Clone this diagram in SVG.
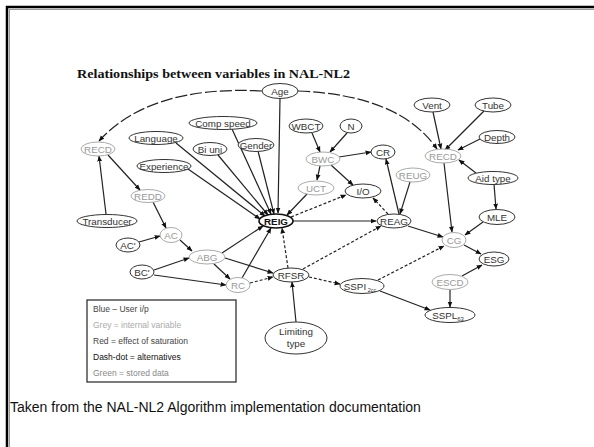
<svg xmlns="http://www.w3.org/2000/svg" width="594" height="447" viewBox="0 0 594 447">
<style>
.frame{fill:none;stroke:#000;stroke-width:2.5}
.frame2{fill:none;stroke:#999;stroke-width:1}
.title{font-family:"Liberation Serif",serif;font-weight:bold;font-size:13.5px;fill:#111}
.nb ellipse{fill:#fff;stroke:#333;stroke-width:1}
.ng ellipse{fill:#fff;stroke:#aaa;stroke-width:1}
.nb text{font-family:"Liberation Sans",Arial,sans-serif;font-size:9.8px;fill:#333;text-anchor:middle}
.ng text{font-family:"Liberation Sans",Arial,sans-serif;font-size:9.8px;fill:#999;text-anchor:middle}
.bold ellipse{stroke:#111;stroke-width:1.6}
.bold text{font-weight:bold;fill:#111}
.c path{fill:none;stroke:#222;stroke-width:1.2;marker-end:url(#ah)}
.c path.d{stroke-dasharray:3 2}
.c path.ld{stroke-dasharray:12 3}
.leg{font-family:"Liberation Sans",Arial,sans-serif;font-size:8.5px}
.foot{font-family:"Liberation Sans",Arial,sans-serif;font-size:14px;fill:#111}
</style>
<defs>
<marker id="ah" viewBox="0 0 10 10" refX="9" refY="5" markerWidth="6" markerHeight="6" markerUnits="userSpaceOnUse" orient="auto">
<path d="M0,1 L10,5 L0,9 z" fill="#111"/>
</marker>
</defs>
<rect x="0" y="0" width="594" height="447" fill="#fff"/>
<rect class="frame" x="7" y="7" width="600" height="460"/>
<rect class="frame2" x="9.5" y="9.5" width="600" height="460"/>
<text class="title" x="77" y="78" textLength="273" lengthAdjust="spacingAndGlyphs">Relationships between variables in NAL-NL2</text>

<g id="connectors" class="c">
<path class="ld" d="M262,91 Q150,85 99,141"/>
<path class="ld" d="M298,91 Q400,95 437,149"/>
<path d="M280,98.5 L278,213"/>
<path d="M232,129 L271,214"/>
<path d="M176,143 L265,216"/>
<path d="M218,155 L268,215"/>
<path d="M258,151 L274,214"/>
<path d="M188,169 L260,219"/>
<path d="M307,194 L287,215"/>
<path d="M320,166 L317,180"/>
<path d="M331,165 L353,185"/>
<path d="M339,157 L371,152"/>
<path d="M312,133 L320,152"/>
<path d="M347,133 L330,152"/>
<path class="d" d="M291,217 L346,195"/>
<path d="M293,221 L376,221"/>
<path class="d" d="M388,214 L373,198"/>
<path d="M399,214 L386,159"/>
<path d="M410,182 L400,214"/>
<path d="M408,226 L443,237"/>
<path d="M444,163 L452,232"/>
<path d="M476,173 L459,160"/>
<path d="M494,184 L496,209"/>
<path d="M483,222 L465,235"/>
<path d="M464,245 L481,254"/>
<path d="M462,276 L482,265"/>
<path d="M450,289.5 L450,307"/>
<path d="M380,291 L430,310"/>
<path class="d" d="M309,277 L340,284"/>
<path class="d" d="M378,280 L444,246"/>
<path class="d" d="M303,269 L381,226"/>
<path class="d" d="M288,268 L282,228"/>
<path d="M296,322 L292,282"/>
<path d="M222,253 L263,226"/>
<path d="M225,258 L273,273"/>
<path d="M214,264 L230,279"/>
<path d="M154,270 L189,258"/>
<path d="M154,275 L226,285"/>
<path d="M242,278 L271,228"/>
<path class="d" d="M250,283 L273,277"/>
<path d="M106,214 L99,156"/>
<path d="M108,155 L140,190"/>
<path d="M153,202 L166,228"/>
<path d="M139,242 L160,236"/>
<path d="M180,240 L192,251"/>
<path d="M433,112 L441,149"/>
<path d="M484,111 L445,150"/>
<path d="M480,139 L458,150"/>
</g>

<g id="Age" class="nb"><ellipse cx="280" cy="91" rx="18" ry="7.5"/><text x="280" y="94.5">Age</text></g>
<g id="RECD_L" class="ng"><ellipse cx="98" cy="149" rx="17" ry="7"/><text x="98" y="152.5">RECD</text></g>
<g id="Language" class="nb"><ellipse cx="156" cy="138" rx="27" ry="6.5"/><text x="156" y="141.5">Language</text></g>
<g id="CompSpeed" class="nb"><ellipse cx="223" cy="123" rx="34" ry="6.5"/><text x="223" y="126.5">Comp speed</text></g>
<g id="BiUni" class="nb"><ellipse cx="210" cy="149" rx="17" ry="6.5"/><text x="210" y="152.5">Bi uni</text></g>
<g id="Gender" class="nb"><ellipse cx="256" cy="145" rx="18" ry="6.5"/><text x="256" y="148.5">Gender</text></g>
<g id="WBCT" class="nb"><ellipse cx="306" cy="126" rx="17" ry="7"/><text x="306" y="129.5">WBCT</text></g>
<g id="N" class="nb"><ellipse cx="351" cy="126" rx="11" ry="7"/><text x="351" y="129.5">N</text></g>
<g id="BWC" class="ng"><ellipse cx="323" cy="159" rx="17" ry="7"/><text x="323" y="162.5">BWC</text></g>
<g id="CR" class="nb"><ellipse cx="383" cy="152" rx="12" ry="7"/><text x="383" y="155.5">CR</text></g>
<g id="Vent" class="nb"><ellipse cx="432" cy="105" rx="18" ry="7"/><text x="432" y="108.5">Vent</text></g>
<g id="Tube" class="nb"><ellipse cx="493" cy="105" rx="18" ry="7"/><text x="493" y="108.5">Tube</text></g>
<g id="Depth" class="nb"><ellipse cx="497" cy="137" rx="18" ry="6.5"/><text x="497" y="140.5">Depth</text></g>
<g id="RECD_R" class="ng"><ellipse cx="443" cy="156" rx="18" ry="7"/><text x="443" y="159.5">RECD</text></g>
<g id="Experience" class="nb"><ellipse cx="164" cy="166" rx="27" ry="6.5"/><text x="164" y="169.5">Experience</text></g>
<g id="REDD" class="ng"><ellipse cx="148" cy="196" rx="17" ry="6.5"/><text x="148" y="199.5">REDD</text></g>
<g id="Transducer" class="nb"><ellipse cx="107" cy="221" rx="30" ry="6.5"/><text x="107" y="224.5">Transducer</text></g>
<g id="AC" class="ng"><ellipse cx="171" cy="235" rx="11" ry="7.5"/><text x="171" y="238.5">AC</text></g>
<g id="ACp" class="nb"><ellipse cx="128" cy="245" rx="12" ry="7"/><text x="128" y="248.5">AC'</text></g>
<g id="ABG" class="ng"><ellipse cx="207" cy="257" rx="18" ry="7"/><text x="207" y="260.5">ABG</text></g>
<g id="REIG" class="nb bold"><ellipse cx="276" cy="221" rx="17" ry="7"/><text x="276" y="224.5">REIG</text></g>
<g id="UCT" class="ng"><ellipse cx="316" cy="188" rx="18" ry="7"/><text x="316" y="191.5">UCT</text></g>
<g id="IO" class="nb"><ellipse cx="363" cy="191" rx="18" ry="7"/><text x="363" y="194.5">I/O</text></g>
<g id="REAG" class="nb"><ellipse cx="394" cy="221" rx="17" ry="7"/><text x="394" y="224.5">REAG</text></g>
<g id="REUG" class="ng"><ellipse cx="413" cy="175" rx="17" ry="7"/><text x="413" y="178.5">REUG</text></g>
<g id="AidType" class="nb"><ellipse cx="493" cy="178" rx="25" ry="6.5"/><text x="493" y="181.5">Aid type</text></g>
<g id="MLE" class="nb"><ellipse cx="497" cy="217" rx="18" ry="7.5"/><text x="497" y="220.5">MLE</text></g>
<g id="CG" class="ng"><ellipse cx="454" cy="240" rx="12" ry="7.5"/><text x="454" y="243.5">CG</text></g>
<g id="ESG" class="nb"><ellipse cx="494" cy="259" rx="15" ry="7"/><text x="494" y="262.5">ESG</text></g>
<g id="ESCD" class="ng"><ellipse cx="450" cy="282" rx="18" ry="7.5"/><text x="450" y="285.5">ESCD</text></g>
<g id="SSPL63" class="nb"><ellipse cx="450" cy="315" rx="25" ry="7.5"/><text x="448" y="318.5">SSPL<tspan font-size="6" dy="2">63</tspan></text></g>
<g id="SSPI2cc" class="nb"><ellipse cx="362" cy="286" rx="22" ry="7.5"/><text x="360" y="289.5">SSPI<tspan font-size="5.5" dy="2"> 2cc</tspan></text></g>
<g id="RFSR" class="nb"><ellipse cx="291" cy="275" rx="18" ry="7"/><text x="291" y="278.5">RFSR</text></g>
<g id="LimitingType" class="nb"><ellipse cx="296" cy="338" rx="31" ry="16"/><text x="296" y="334.5">Limiting</text><text x="296" y="347">type</text></g>
<g id="RC" class="ng"><ellipse cx="238" cy="285" rx="12" ry="7.5"/><text x="238" y="288.5">RC</text></g>
<g id="BCp" class="nb"><ellipse cx="142" cy="272" rx="12" ry="7"/><text x="142" y="275.5">BC'</text></g>

<g id="legend">
<rect x="87" y="300" width="149" height="82" fill="#fff" stroke="#222" stroke-width="1.2"/>
<text class="leg" x="93" y="312" fill="#444">Blue – User i/p</text>
<text class="leg" x="93" y="328" fill="#aaa">Grey = internal variable</text>
<text class="leg" x="93" y="344" fill="#444">Red = effect of saturation</text>
<text class="leg" x="93" y="360" fill="#111">Dash-dot = alternatives</text>
<text class="leg" x="93" y="376" fill="#888">Green = stored data</text>
</g>
<text class="foot" x="10" y="412">Taken from the NAL-NL2 Algorithm implementation documentation</text>
</svg>
